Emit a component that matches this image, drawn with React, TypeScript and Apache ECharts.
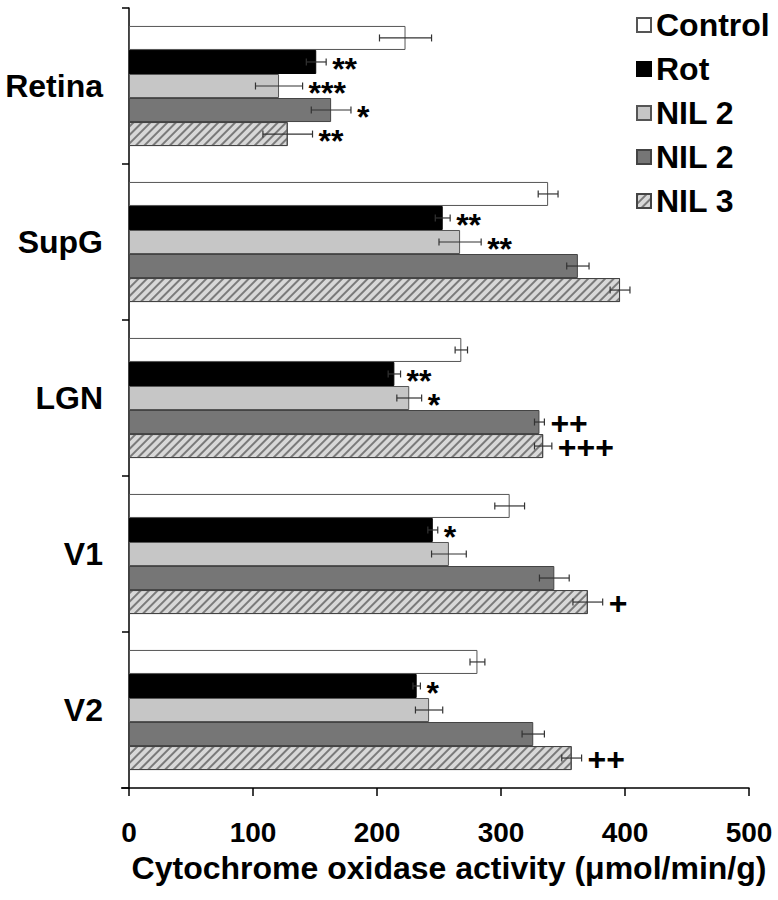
import React, { useEffect, useRef } from "react";
import * as echarts from "echarts";

const categories = ["Retina", "SupG", "LGN", "V1", "V2"];
const seriesNames = ["Control", "Rot", "NIL 2", "NIL 2 (dark)", "NIL 3"];

const controlMeans = [223, 338, 268, 307, 281];
const controlErrs = [21, 8, 5, 12, 6];
const rotMeans = [151, 253, 214, 245, 232];
const rotErrs = [8, 6, 5, 4, 3];
const nil2Means = [121, 267, 226, 258, 242];
const nil2Errs = [19, 17, 10, 14, 11];
const nil2bMeans = [163, 362, 331, 343, 326];
const nil2bErrs = [16, 9, 4, 12, 9];
const nil3Means = [128, 396, 334, 370, 357];
const nil3Errs = [20, 8, 7, 12, 8];

const controlMarks = ["", "", "", "", ""];
const rotMarks = ["**", "**", "**", "*", "*"];
const nil2Marks = ["***", "**", "*", "", ""];
const nil2bMarks = ["*", "", "++", "", ""];
const nil3Marks = ["**", "", "+++", "+", "++"];

const xTicks = [0, 100, 200, 300, 400, 500];

const allMeans = [controlMeans, rotMeans, nil2Means, nil2bMeans, nil3Means];
const allErrs = [controlErrs, rotErrs, nil2Errs, nil2bErrs, nil3Errs];
const allMarks = [controlMarks, rotMarks, nil2Marks, nil2bMarks, nil3Marks];

const FONT = "'Liberation Sans', Arial, sans-serif";
const GAP = 0.23;

const styles = [
  { color: "#ffffff", borderColor: "#555555", borderWidth: 1 },
  { color: "#000000", borderColor: "#000000", borderWidth: 1 },
  { color: "#c6c6c6", borderColor: "#555555", borderWidth: 1 },
  { color: "#767676", borderColor: "#444444", borderWidth: 1 },
  {
    color: "#d8d8d8",
    borderColor: "#444444",
    borderWidth: 1,
    decal: {
      symbol: "rect",
      symbolSize: 1,
      dashArrayX: [1, 0],
      dashArrayY: [2, 4],
      rotation: -Math.PI / 4,
      color: "#7a7a7a",
    },
  },
];

export default function App() {
  const ref = useRef<HTMLDivElement>(null);
  useEffect(() => {
    if (!ref.current) return;
    const chart = echarts.init(ref.current, null, { renderer: "svg" });

    const barSeries = seriesNames.map((name, si) => ({
      name,
      type: "bar",
      data: allMeans[si],
      barGap: "0%",
      barCategoryGap: `${GAP * 100}%`,
      itemStyle: styles[si],
      emphasis: { disabled: true },
    }));

    const errSeries = seriesNames.map((name, si) => ({
      name: "err-" + name,
      type: "custom",
      coordinateSystem: "cartesian2d",
      silent: true,
      z: 10,
      encode: { x: 0, y: 1 },
      data: allMeans[si].map((m, i) => [m, i, allErrs[si][i]]),
      renderItem: (params: any, api: any) => {
        const v = api.value(0);
        const cat = api.value(1);
        const e = api.value(2);
        const c = api.coord([v, cat]);
        const band = api.size([0, 1])[1];
        const groupH = band * (1 - GAP);
        const barH = groupH / 5;
        const mid = c[1] - groupH / 2 + (si + 0.5) * barH;
        const x0 = api.coord([v - e, cat])[0];
        const x1 = api.coord([v + e, cat])[0];
        const ls = { stroke: "#333333", lineWidth: 1.2 };
        const mark = allMarks[si][params.dataIndex];
        const children: any[] = [
          { type: "line", shape: { x1: x0, y1: mid, x2: x1, y2: mid }, style: ls },
          { type: "line", shape: { x1: x0, y1: mid - 3.5, x2: x0, y2: mid + 3.5 }, style: ls },
          { type: "line", shape: { x1: x1, y1: mid - 3.5, x2: x1, y2: mid + 3.5 }, style: ls },
        ];
        if (mark) {
          const isStar = mark.indexOf("*") >= 0;
          children.push({
            type: "text",
            x: x1 + 6,
            y: isStar ? mid + 7 : mid + 1,
            style: {
              text: mark,
              fontFamily: FONT,
              fontWeight: "bold",
              fontSize: isStar ? 32 : 32,
              fill: "#000",
              align: "left",
              verticalAlign: "middle",
            },
          });
        }
        return { type: "group", children };
      },
    }));

    chart.setOption({
      animation: false,
      grid: { left: 129, right: 29, top: 8, bottom: 112, containLabel: false },
      legend: {
        orient: "vertical",
        left: 631,
        top: 4,
        itemWidth: 14,
        itemHeight: 14,
        itemGap: 12,
        icon: "rect",
        data: seriesNames,
        selectedMode: false,
        formatter: (n: string) => n.replace(" (dark)", ""),
        textStyle: { fontFamily: FONT, fontWeight: "bold", fontSize: 32, color: "#000" },
      },
      graphic: [
        {
          type: "line",
          shape: { x1: 121, y1: 788, x2: 129, y2: 788 },
          style: { stroke: "#000", lineWidth: 1.5 },
        },
      ],
      xAxis: {
        type: "value",
        min: xTicks[0],
        max: xTicks[xTicks.length - 1],
        interval: 100,
        axisLine: { show: true, lineStyle: { color: "#000", width: 1.5 } },
        axisTick: { show: true, length: 8, lineStyle: { color: "#000", width: 1.5 } },
        splitLine: { show: false },
        axisLabel: {
          fontFamily: FONT,
          fontWeight: "bold",
          fontSize: 28,
          color: "#000",
          margin: 30,
        },
        name: "Cytochrome oxidase activity (μmol/min/g)",
        nameLocation: "middle",
        nameGap: 64,
        nameTextStyle: {
          fontFamily: FONT,
          fontWeight: "bold",
          fontSize: 32,
          color: "#000",
          padding: [0, 0, 0, 20],
        },
      },
      yAxis: {
        type: "category",
        data: categories,
        inverse: true,
        axisLine: { show: true, lineStyle: { color: "#000", width: 1.5 } },
        axisTick: { show: true, length: 7, lineStyle: { color: "#000", width: 1.5 } },
        axisLabel: {
          fontFamily: FONT,
          fontWeight: "bold",
          fontSize: 32,
          color: "#000",
          margin: 26,
        },
      },
      series: [...barSeries, ...errSeries],
    });
    return () => chart.dispose();
  }, []);
  return <div ref={ref} style={{ width: 778, height: 900, position: "absolute", left: 0, top: 0, background: "#fff" }} />;
}
